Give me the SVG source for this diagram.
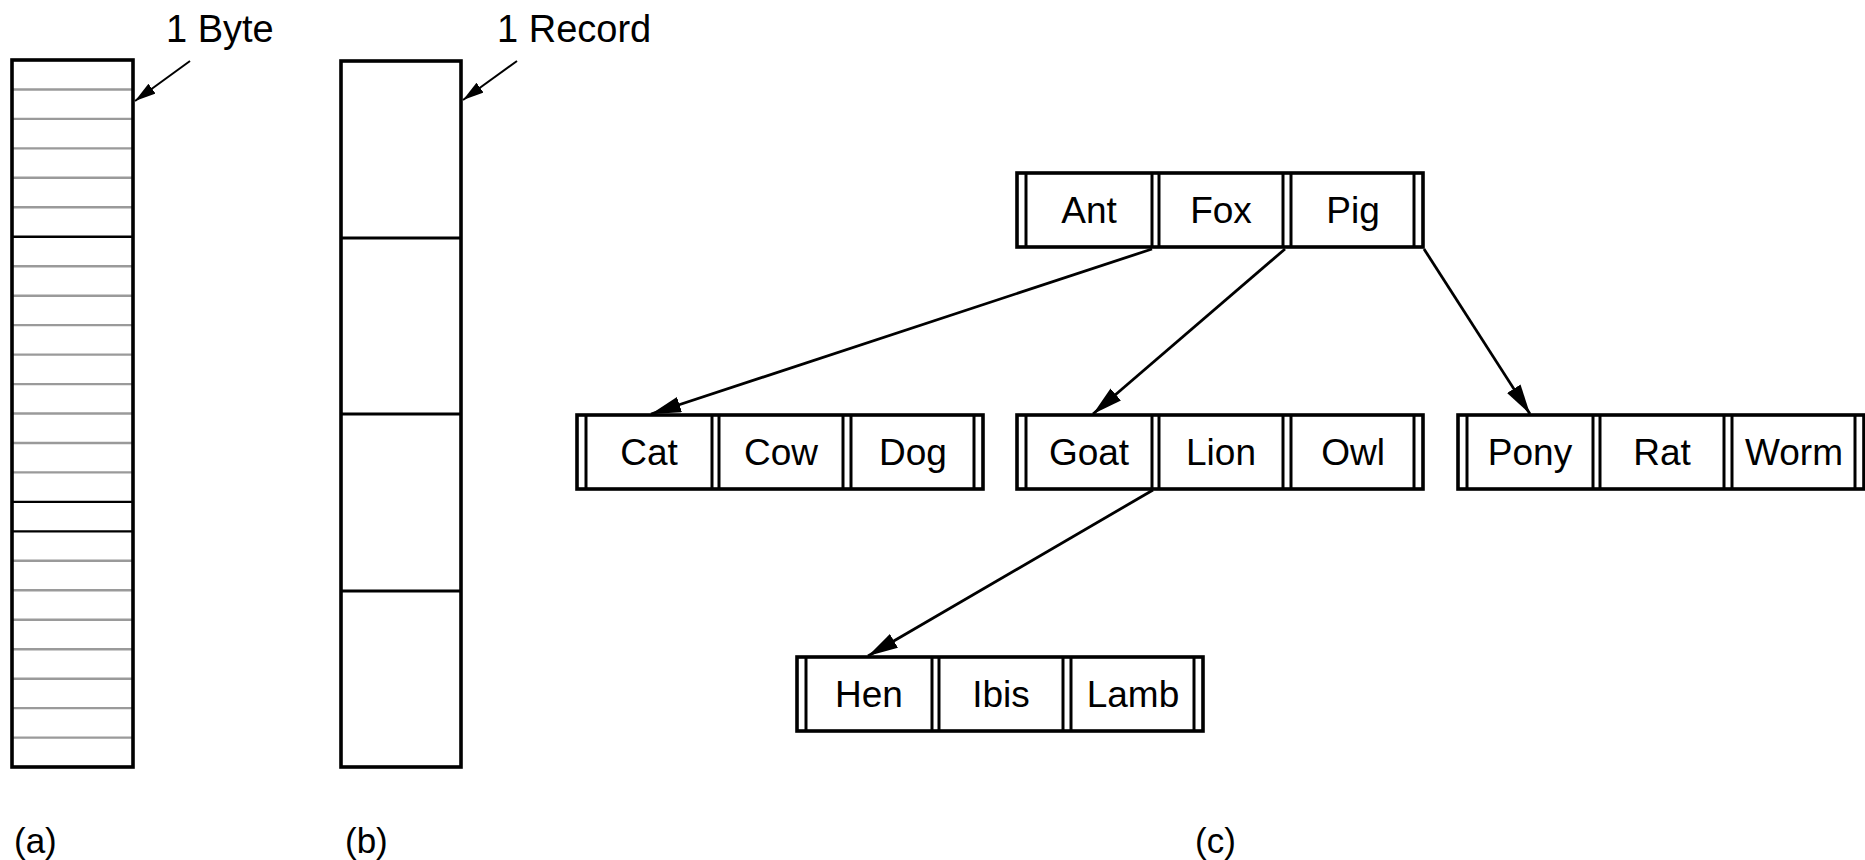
<svg xmlns="http://www.w3.org/2000/svg" width="1865" height="860" viewBox="0 0 1865 860">
<style>
text{font-family:"Liberation Sans",Arial,sans-serif;fill:#000}
.lbl{font-size:38px}
.cap{font-size:35px}
.cell{font-size:37px;text-anchor:middle}
.outer{fill:#fff;stroke:#000;stroke-width:3.6}
.div{stroke:#000;stroke-width:3}
.gl{stroke:#9a9a9a;stroke-width:2.4}
.bl{stroke:#000;stroke-width:2.4}
.conn{stroke:#000;stroke-width:2.8;fill:none}
.sconn{stroke:#000;stroke-width:2;fill:none}
</style>
<defs>
<marker id="ah" markerUnits="userSpaceOnUse" markerWidth="34" markerHeight="20" refX="30" refY="8" orient="auto">
<path d="M0,0 L30,8 L0,16 Z" fill="#000"/>
</marker>
<marker id="sah" markerUnits="userSpaceOnUse" markerWidth="24" markerHeight="14" refX="21" refY="6" orient="auto">
<path d="M0,0 L21,6 L0,12 Z" fill="#000"/>
</marker>
<g id="rowtpl">
<rect class="outer" x="0" y="0" width="406" height="74"/>
<line class="div" x1="9" y1="0" x2="9" y2="74"/>
<line class="div" x1="135" y1="0" x2="135" y2="74"/>
<line class="div" x1="142" y1="0" x2="142" y2="74"/>
<line class="div" x1="266" y1="0" x2="266" y2="74"/>
<line class="div" x1="274" y1="0" x2="274" y2="74"/>
<line class="div" x1="397" y1="0" x2="397" y2="74"/>
</g>
</defs>
<rect width="1865" height="860" fill="#fff"/>

<g id="byte-file">
<line class="gl" x1="12" y1="89.5" x2="133" y2="89.5"/>
<line class="gl" x1="12" y1="118.9" x2="133" y2="118.9"/>
<line class="gl" x1="12" y1="148.4" x2="133" y2="148.4"/>
<line class="gl" x1="12" y1="177.8" x2="133" y2="177.8"/>
<line class="gl" x1="12" y1="207.3" x2="133" y2="207.3"/>
<line class="bl" x1="12" y1="236.8" x2="133" y2="236.8"/>
<line class="gl" x1="12" y1="266.2" x2="133" y2="266.2"/>
<line class="gl" x1="12" y1="295.7" x2="133" y2="295.7"/>
<line class="gl" x1="12" y1="325.1" x2="133" y2="325.1"/>
<line class="gl" x1="12" y1="354.6" x2="133" y2="354.6"/>
<line class="gl" x1="12" y1="384.1" x2="133" y2="384.1"/>
<line class="gl" x1="12" y1="413.5" x2="133" y2="413.5"/>
<line class="gl" x1="12" y1="443" x2="133" y2="443"/>
<line class="gl" x1="12" y1="472.4" x2="133" y2="472.4"/>
<line class="bl" x1="12" y1="501.9" x2="133" y2="501.9"/>
<line class="bl" x1="12" y1="531.4" x2="133" y2="531.4"/>
<line class="gl" x1="12" y1="560.8" x2="133" y2="560.8"/>
<line class="gl" x1="12" y1="590.3" x2="133" y2="590.3"/>
<line class="gl" x1="12" y1="619.7" x2="133" y2="619.7"/>
<line class="gl" x1="12" y1="649.2" x2="133" y2="649.2"/>
<line class="gl" x1="12" y1="678.7" x2="133" y2="678.7"/>
<line class="gl" x1="12" y1="708.1" x2="133" y2="708.1"/>
<line class="gl" x1="12" y1="737.6" x2="133" y2="737.6"/>
<rect x="12" y="60" width="121" height="707" fill="none" stroke="#000" stroke-width="3.6"/>
<text class="lbl" x="166" y="42">1 Byte</text>
<text class="cap" x="14" y="853">(a)</text>
</g>

<g id="record-file">
<rect x="341" y="61" width="120" height="706" fill="#fff" stroke="#000" stroke-width="3.6"/>
<line class="div" x1="341" y1="238" x2="461" y2="238"/>
<line class="div" x1="341" y1="414" x2="461" y2="414"/>
<line class="div" x1="341" y1="591" x2="461" y2="591"/>
<text class="lbl" x="497" y="42">1 Record</text>
<text class="cap" x="345" y="853">(b)</text>
</g>

<g id="node-root">
<use href="#rowtpl" transform="translate(1017,173)"/>
<text class="cell" x="1089" y="223">Ant</text>
<text class="cell" x="1221" y="223">Fox</text>
<text class="cell" x="1353" y="223">Pig</text>
</g>
<g id="node-cat">
<use href="#rowtpl" transform="translate(577,415)"/>
<text class="cell" x="649" y="465">Cat</text>
<text class="cell" x="781" y="465">Cow</text>
<text class="cell" x="913" y="465">Dog</text>
</g>
<g id="node-goat">
<use href="#rowtpl" transform="translate(1017,415)"/>
<text class="cell" x="1089" y="465">Goat</text>
<text class="cell" x="1221" y="465">Lion</text>
<text class="cell" x="1353" y="465">Owl</text>
</g>
<g id="node-pony">
<use href="#rowtpl" transform="translate(1458,415)"/>
<text class="cell" x="1530" y="465">Pony</text>
<text class="cell" x="1662" y="465">Rat</text>
<text class="cell" x="1794" y="465">Worm</text>
</g>
<g id="node-hen">
<use href="#rowtpl" transform="translate(797,657)"/>
<text class="cell" x="869" y="707">Hen</text>
<text class="cell" x="1001" y="707">Ibis</text>
<text class="cell" x="1133" y="707">Lamb</text>
</g>
<text class="cap" x="1195" y="853">(c)</text>

<g id="connectors">
<line class="sconn" x1="190" y1="61" x2="135" y2="101" marker-end="url(#sah)"/>
<line class="sconn" x1="517" y1="61" x2="463" y2="100" marker-end="url(#sah)"/>
<line class="conn" x1="1152" y1="249" x2="651" y2="414" marker-end="url(#ah)"/>
<line class="conn" x1="1285" y1="249" x2="1093" y2="414" marker-end="url(#ah)"/>
<line class="conn" x1="1424" y1="249" x2="1530" y2="414" marker-end="url(#ah)"/>
<line class="conn" x1="1153" y1="490" x2="868" y2="656" marker-end="url(#ah)"/>
</g>
</svg>
